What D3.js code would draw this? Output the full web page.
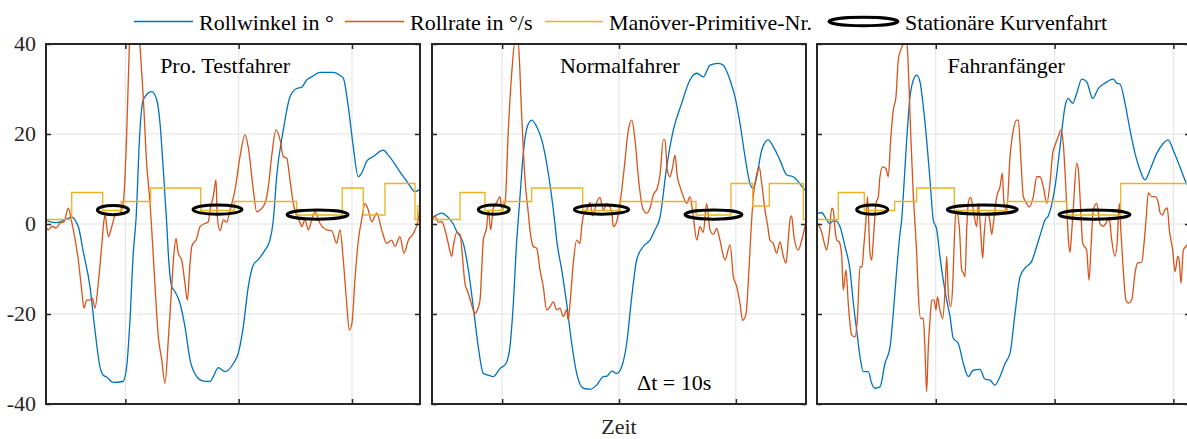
<!DOCTYPE html>
<html>
<head>
<meta charset="utf-8">
<script src="https://cdn.jsdelivr.net/npm/d3@7"></script>
<style>
  html, body { margin: 0; padding: 0; background: #ffffff; overflow: hidden; }
  svg { display: block; }
</style>
</head>
<body>
<svg id="chart" width="1187" height="439"></svg>
<script>
// ---- Data -----------------------------------------------------------------
const panelTitles = ["Pro. Testfahrer", "Normalfahrer", "Fahranfänger"];
const legendLabels = ["Rollwinkel in °", "Rollrate in °/s", "Manöver-Primitive-Nr.", "Stationäre Kurvenfahrt"];
const axisLabel = "Zeit";
const intervalNote = "\u0394t = 10s";

// time window [s] shown for each driver
const zeitbereich = [[3, 36], [4, 36], [0, 31.4]];
const xTicks = [10, 20, 30];
const yTicks = [-40, -20, 0, 20, 40];

// Pro. Testfahrer: [Zeit s, Wert]
const rollwinkel1 = [[3.0,0.8],[3.8,0.3],[4.4,0.6],[4.9,1.2],[5.3,1.5],[5.65,0.5],[5.9,-1],[6.26,-5.8],[6.88,-13.9],[7.32,-23.6],[7.76,-31.7],[8.05,-33.6],[8.35,-34],[8.91,-35.2],[9.79,-35],[10.12,-31.7],[10.41,-21.3],[10.7,-6.5],[10.94,0.9],[11.29,20.9],[11.58,27.6],[12.33,29.4],[12.77,27.6],[13.06,22.4],[13.35,12],[13.65,0.2],[13.79,-6.5],[14.09,-13.9],[14.38,-15],[14.82,-17.6],[15.26,-22.8],[15.71,-30.2],[16.3,-33.9],[16.88,-34.9],[17.47,-35],[17.76,-33.9],[18.2,-31.9],[18.79,-32.8],[19.53,-31],[19.97,-28.7],[20.41,-22.8],[20.85,-13.9],[21.29,-9.1],[21.73,-7.9],[22.32,-5.8],[22.76,-3.6],[23.06,0.9],[23.35,10.5],[23.94,20.9],[24.53,28.3],[25.12,30.1],[25.56,30.4],[26.0,32],[26.44,32.7],[27.18,33.7],[28.35,33.7],[28.94,33],[29.23,32.4],[29.67,26.1],[30.11,17.2],[30.55,10.5],[30.85,11.3],[31.29,13.9],[31.88,15],[32.76,16.4],[33.2,15.3],[34.23,11.6],[34.97,9],[35.56,7.2],[36.0,7.7]];
const rollrate1 = [[3.0,-0.6],[3.2,-1.3],[3.53,-0.5],[3.88,-0.9],[4.24,0.2],[4.59,0.5],[4.97,3.5],[5.27,0.4],[5.41,-1.3],[5.85,-8],[6.15,-14.7],[6.35,-18.7],[6.59,-16.9],[6.88,-16.9],[7.09,-16.5],[7.32,-18.7],[7.61,-13.2],[7.91,-5],[8.12,0.9],[8.21,2],[8.5,-2.8],[8.8,-0.6],[9.09,1.8],[9.53,2.4],[9.82,4.6],[10.12,20],[10.36,40],[10.59,50],[10.94,52],[11.28,40],[11.58,28.3],[11.88,13.5],[12.18,4.6],[12.33,-1.3],[12.62,-13.9],[12.91,-25],[13.21,-30.2],[13.5,-35.4],[13.79,-25.8],[14.09,-13.9],[14.29,-6.5],[14.47,-3.2],[14.67,-6.5],[14.97,-8],[15.26,-13.2],[15.47,-16.9],[15.71,-8.7],[15.86,-5],[16.3,-3.2],[16.59,-0.6],[17.03,0.1],[17.32,0.5],[17.47,3.1],[17.76,6.1],[18.0,9.8],[18.11,1.8],[18.35,-1.5],[18.65,0.9],[18.94,0.4],[19.24,3.1],[19.68,7.6],[20.12,15],[20.56,19.8],[20.85,17],[21.29,7.6],[21.59,2.7],[21.88,3.1],[22.32,4.6],[22.62,8.3],[22.91,15],[23.29,20.9],[23.65,18.7],[23.94,15],[24.24,14.6],[24.53,9.8],[24.82,4.6],[25.12,1.8],[25.41,0.4],[25.56,-0.6],[25.85,0.9],[26.15,-1.3],[26.44,0.9],[26.74,2.7],[27.18,0.1],[27.77,-1.3],[28.21,-1.5],[28.65,-4.3],[28.94,-1.3],[29.23,-8],[29.53,-17.6],[29.76,-23.6],[30.0,-22],[30.26,-12.3],[30.56,-3.6],[30.85,0.9],[31.15,4.6],[31.44,3.1],[31.74,0.5],[32.18,2.4],[32.62,-1.3],[33.06,-4.3],[33.5,-3.6],[33.79,-5],[34.23,-2.8],[34.59,-6.5],[34.97,-3.6],[35.41,-2.1],[35.85,0.9],[36.0,4.6]];
const manoever1 = [[3,1],[5.27,7],[8.0,3],[9.62,5],[12.24,8],[16.65,3],[19.61,5],[25.12,2],[29.14,8],[31.0,2],[32.91,9],[35.56,1],[35.78,4],[36,4]];
// stationary cornering: [Beginn s, Ende s, Niveau]
const kurven1 = [[7.54,10.28,3.1],[15.97,20.29,3.2],[24.27,29.65,2.1]];

// Normalfahrer
const rollwinkel2 = [[4.0,1.3],[4.83,2.4],[5.26,1.8],[5.82,0],[6.11,-1.6],[6.68,-4.3],[7.11,-10.2],[7.53,-18.4],[7.96,-27.3],[8.39,-33.2],[8.82,-33.6],[9.24,-33.9],[9.82,-32.1],[10.33,-31],[10.67,-27.3],[10.96,-17.6],[11.25,-3.6],[11.38,0.9],[11.53,6.1],[11.81,15.7],[12.15,21.6],[12.53,23.1],[12.96,21.6],[13.39,18.7],[13.81,13.5],[14.24,6.1],[14.52,0],[14.67,-3.6],[15.1,-10.2],[15.52,-17.6],[15.95,-26.5],[16.38,-33.2],[16.95,-36.5],[17.52,-36.7],[18.09,-35.8],[18.66,-33.9],[18.97,-33.8],[19.38,-32.7],[19.8,-33.2],[20.23,-31.7],[20.66,-26.5],[21.09,-16.2],[21.51,-8],[22.08,-5],[22.65,-3.6],[23.08,-1.3],[23.51,1.5],[24.08,12.7],[24.65,20.9],[25.36,26.8],[26.07,32],[26.65,33.5],[27.21,32.7],[27.79,35.3],[28.5,35.7],[28.92,35.3],[29.5,32],[29.92,28.3],[30.35,22.4],[30.78,15],[31.21,9],[31.49,7.9],[31.78,10.5],[32.21,16.4],[32.77,18.7],[33.2,17.2],[33.77,14.2],[34.35,10.9],[34.91,10.5],[35.34,9.4],[35.91,7.6],[36.0,7.4]];
const rollrate2 = [[4.0,0.6],[4.26,1.8],[4.54,0.4],[4.86,0.5],[5.11,-1.3],[5.39,-4.3],[5.69,-7.2],[5.82,-5],[6.11,-1.9],[6.4,-2.3],[6.63,-8],[6.82,-13.2],[7.11,-15.4],[7.4,-18],[7.68,-19.9],[7.88,-19.1],[8.11,-16.9],[8.25,-10.2],[8.39,-3.6],[8.68,-0.6],[8.82,3.1],[9.02,-1.3],[9.24,3.5],[9.54,4.8],[9.82,6.1],[9.96,3.5],[10.25,4.6],[10.53,20.9],[10.82,33.5],[11.1,40.5],[11.38,40],[11.67,24.3],[11.96,9.8],[12.24,2.4],[12.38,-1.3],[12.67,-5],[12.96,-5.4],[13.24,-10.2],[13.52,-13.9],[13.81,-19.1],[14.1,-18.4],[14.38,-17.3],[14.67,-19.1],[14.95,-18.7],[15.23,-20.6],[15.52,-19.1],[15.66,-21.4],[15.81,-17.6],[16.09,-8.7],[16.38,-3.6],[16.66,-4.3],[16.81,-0.6],[16.95,1.8],[17.24,3.1],[17.52,4.8],[17.75,1.8],[18.09,4.8],[18.37,5.9],[18.66,3.1],[18.95,4.6],[19.38,2.7],[19.51,-0.6],[19.8,0.5],[20.09,4.6],[20.43,12],[20.8,20.9],[21.09,23.1],[21.37,18.7],[21.65,10.5],[22.03,3.5],[22.37,2.4],[22.65,3.5],[22.94,6.5],[23.28,8],[23.51,11],[23.79,18.7],[23.94,18.7],[24.13,12],[24.36,10.5],[24.59,12.7],[24.79,15.3],[24.99,10.5],[25.22,8.3],[25.5,6.1],[25.79,4.6],[26.07,6.1],[26.35,1.8],[26.65,-3.6],[26.93,-0.6],[27.21,-1.9],[27.5,4.6],[27.79,-1.3],[28.07,-2.3],[28.36,-1],[28.64,-3.6],[29.07,-8],[29.5,-4.6],[29.78,-11.6],[30.07,-13.9],[30.35,-17.6],[30.58,-21.4],[30.87,-19.9],[31.07,-12.5],[31.3,-1.3],[31.49,6.1],[31.78,11],[32.0,12.7],[32.21,9],[32.49,3.1],[32.7,0],[32.92,-3.6],[33.2,-4.3],[33.49,-6.5],[33.77,-4],[34.06,-7.2],[34.29,-8.7],[34.48,-3.6],[34.63,0.9],[34.77,1.8],[34.97,-2.8],[35.34,-5.8],[35.63,-3.6],[35.91,-0.6],[36.0,0.4]];
const manoever2 = [[4,1],[6.4,7],[8.53,3],[10.1,5],[12.53,8],[16.89,3],[20.09,5],[26.59,2],[29.58,9],[31.44,4],[32.86,9],[35.77,1],[36,1]];
const kurven2 = [[7.96,10.61,3.2],[16.18,20.83,3.2],[25.65,30.52,2.1]];

// Fahranfänger
const rollwinkel3 = [[0.0,2.4],[0.4,2.5],[0.82,0.9],[1.09,0.1],[1.37,0.7],[1.66,0.6],[1.94,-0.6],[2.36,-5],[2.78,-10.2],[3.06,-17.6],[3.34,-23.6],[3.62,-29.5],[3.9,-32.8],[4.32,-32.8],[4.6,-35.4],[4.88,-36.5],[5.3,-36.2],[5.72,-31],[6.15,-27.3],[6.42,-19.9],[6.71,-10.2],[6.99,-2],[7.13,0.9],[7.26,6.1],[7.55,18.7],[7.83,28.3],[8.11,32],[8.39,33.1],[8.67,31.6],[8.95,26.1],[9.23,18.7],[9.51,9.8],[9.79,0.9],[10.08,-1.3],[10.35,-7.2],[10.63,-12.5],[10.92,-16.9],[11.2,-20.6],[11.47,-25.4],[11.89,-26.5],[12.32,-31],[12.74,-33.9],[13.16,-32.5],[13.72,-32.3],[14.14,-34.5],[14.56,-34.7],[14.98,-35.8],[15.41,-33.9],[15.83,-31],[16.25,-28.7],[16.67,-19.9],[17.09,-11.7],[17.51,-9.8],[18.07,-8.3],[18.49,-5],[18.92,-1.3],[19.19,0.9],[19.47,1.8],[20.04,8.3],[20.46,17.2],[20.88,26.1],[21.15,27.9],[21.52,26.8],[21.86,29],[22.28,32.2],[22.7,31.6],[23.21,27.9],[23.68,30.1],[24.24,31.3],[24.94,32.2],[25.23,31.3],[25.51,31.1],[25.93,26.8],[26.35,20.9],[26.77,15.7],[27.19,12],[27.61,9.8],[28.03,12],[28.6,15.7],[29.15,17.9],[29.57,18.7],[29.99,16.4],[30.55,12.7],[31.11,9],[31.4,7.8]];
const rollrate3 = [[0,0.5],[0.4,-1.9],[0.67,-4.8],[0.82,-5.8],[1.04,-1.9],[1.24,3.5],[1.37,3.1],[1.52,-1.3],[1.66,-3.6],[1.88,-4],[2.08,-7.2],[2.21,-14.7],[2.44,-10.2],[2.63,-17.6],[2.92,-24.7],[3.2,-25.1],[3.39,-21.4],[3.62,-9.5],[3.79,-9.5],[3.96,-4.3],[4.12,0.9],[4.25,6.1],[4.46,-6.5],[4.6,-8],[4.74,-3.6],[4.97,4.6],[5.16,6.1],[5.3,10.5],[5.53,12.7],[5.81,12.3],[6.0,10.5],[6.2,18.7],[6.42,25.3],[6.65,28.3],[6.84,36.4],[7.05,38.7],[7.26,40],[7.49,41],[7.6,39.4],[7.83,24.3],[8.11,6.1],[8.25,0],[8.39,-6.5],[8.53,-15.6],[8.73,-21],[8.95,-21],[9.09,-28],[9.23,-37.3],[9.37,-27.3],[9.51,-21.4],[9.66,-16.9],[9.85,-16.9],[10.02,-19.1],[10.13,-16.2],[10.35,-19.1],[10.58,-21],[10.78,-14.7],[10.92,-7.2],[11.05,-15.4],[11.25,-18.4],[11.42,-13.9],[11.56,-3.6],[11.7,3.1],[11.98,-0.6],[12.18,-10.2],[12.32,-10.9],[12.46,-11.7],[12.6,-1.3],[12.74,4.8],[12.94,5.9],[13.16,3.1],[13.44,-0.6],[13.58,4.6],[13.78,-1.9],[13.95,-7.6],[14.06,-2.8],[14.29,2.4],[14.5,1.5],[14.71,-2.3],[14.84,0],[15.13,6.1],[15.41,8.3],[15.6,11.3],[15.74,4.8],[15.97,3.1],[16.25,15],[16.53,20.9],[16.81,23.1],[16.95,23.1],[17.15,15],[17.37,6.1],[17.65,4.6],[17.87,3.8],[18.21,6.1],[18.5,10.5],[18.77,10.5],[19.05,8.3],[19.34,4.6],[19.61,9],[19.84,15.7],[20.04,17.5],[20.31,19.4],[20.54,20.9],[20.73,17.9],[20.93,9],[21.07,1],[21.15,-2.8],[21.29,-6.3],[21.44,-1.9],[21.57,3.1],[21.86,13.5],[22.0,12],[22.2,3.1],[22.37,-4.3],[22.7,-5.8],[22.9,-12.5],[23.07,-5],[23.26,3.1],[23.55,4.6],[23.82,0.1],[24.1,-0.5],[24.39,0.5],[24.58,1.5],[24.81,-3.6],[25.09,-7.2],[25.28,-3.6],[25.45,4.6],[25.59,-1.9],[25.78,-10.2],[26.01,-16.9],[26.21,-17.6],[26.49,-16.9],[26.77,-11],[26.97,-8.7],[27.34,-8.5],[27.53,-4.3],[27.7,0.9],[27.89,6.9],[28.18,6.1],[28.46,6.1],[28.74,4.6],[28.88,2.5],[29.09,2.0],[29.3,3.2],[29.49,3.6],[29.66,-1.3],[29.94,-5.8],[30.14,-10.6],[30.37,-7.2],[30.5,-8.2],[30.64,-13.2],[30.84,-5.8],[31.06,-5],[31.4,-4]];
const manoever3 = [[0,1],[1.79,7],[3.98,3],[6.54,5],[8.39,8],[11.56,3],[16.02,5],[21.02,2],[25.57,9],[31.4,9]];
const kurven3 = [[3.34,5.95,3.2],[10.97,16.86,3.2],[20.37,26.35,2.1]];

// ---- Layout & style ---------------------------------------------------------
const SERIF = '"Liberation Serif", "Times New Roman", serif';
const COL_ROLL = "#0072BD", COL_RATE = "#D95319", COL_MP = "#EDB120";
const AXIS_COL = "#262626", GRID_COL = "#e1e1e1";
const plotTop = 44, plotBottom = 404;
const panelBox = [[46, 420], [432, 806], [817, 1190]];
const titleFrac = [0.479, 0.502, 0.507];

const panels = [
  { title: panelTitles[0], range: zeitbereich[0], roll: rollwinkel1, rate: rollrate1, mp: manoever1, kurven: kurven1 },
  { title: panelTitles[1], range: zeitbereich[1], roll: rollwinkel2, rate: rollrate2, mp: manoever2, kurven: kurven2 },
  { title: panelTitles[2], range: zeitbereich[2], roll: rollwinkel3, rate: rollrate3, mp: manoever3, kurven: kurven3 }
];

const svg = d3.select("#chart");
const defs = svg.append("defs");
const y = d3.scaleLinear().domain([-40, 40]).range([plotBottom, plotTop]);

// all labels share one serif face
const label = (sel) => sel.style("font-family", SERIF).style("font-size", "22px");

panels.forEach((p, i) => {
  const [x0, x1] = panelBox[i];
  const x = d3.scaleLinear().domain(p.range).range([x0, x1]);
  const g = svg.append("g").attr("class", "panel");

  defs.append("clipPath").attr("id", "plotclip" + i)
    .append("rect").attr("x", x0).attr("y", plotTop)
    .attr("width", x1 - x0).attr("height", plotBottom - plotTop);

  const xt = xTicks.filter(t => t >= p.range[0] && t <= p.range[1]);

  // grid
  g.append("g").selectAll("line").data(xt).join("line")
    .attr("x1", d => x(d)).attr("x2", d => x(d))
    .attr("y1", plotTop).attr("y2", plotBottom)
    .attr("stroke", GRID_COL).attr("stroke-width", 1);
  g.append("g").selectAll("line").data(yTicks.filter(v => v > -40 && v < 40)).join("line")
    .attr("x1", x0).attr("x2", x1)
    .attr("y1", d => y(d)).attr("y2", d => y(d))
    .attr("stroke", GRID_COL).attr("stroke-width", 1);

  // series
  const plot = g.append("g").attr("clip-path", `url(#plotclip${i})`);
  const smooth = d3.line().x(d => x(d[0])).y(d => y(d[1])).curve(d3.curveMonotoneX);
  const stepped = d3.line().x(d => x(d[0])).y(d => y(d[1])).curve(d3.curveStepAfter);

  plot.append("path").datum(p.roll).attr("d", smooth)
    .attr("fill", "none").attr("stroke", COL_ROLL).attr("stroke-width", 1.3);
  plot.append("path").datum(p.rate).attr("d", smooth)
    .attr("fill", "none").attr("stroke", COL_RATE).attr("stroke-width", 1.3);
  plot.append("path").datum(p.mp).attr("d", stepped)
    .attr("fill", "none").attr("stroke", COL_MP).attr("stroke-width", 1.3);

  // stationary cornering phases
  g.append("g").selectAll("ellipse").data(p.kurven).join("ellipse")
    .attr("cx", d => (x(d[0]) + x(d[1])) / 2)
    .attr("cy", d => y(d[2]))
    .attr("rx", d => (x(d[1]) - x(d[0])) / 2)
    .attr("ry", 4.6)
    .attr("fill", "none").attr("stroke", "#000").attr("stroke-width", 3);

  // axes (ticks pointing inward)
  const styleAxis = sel => {
    sel.select(".domain").remove();
    sel.selectAll(".tick line").attr("stroke", AXIS_COL).attr("stroke-width", 1.5);
  };
  g.append("g").attr("transform", `translate(0,${plotBottom})`)
    .call(d3.axisBottom(x).tickValues(xt).tickSize(-5).tickFormat(() => ""))
    .call(styleAxis);
  g.append("g").attr("transform", `translate(0,${plotTop})`)
    .call(d3.axisTop(x).tickValues(xt).tickSize(-5).tickFormat(() => ""))
    .call(styleAxis);
  const left = g.append("g").attr("transform", `translate(${x0},0)`)
    .call(d3.axisLeft(y).tickValues(yTicks).tickSize(-5).tickPadding(10)
      .tickFormat(d => i === 0 ? String(d) : ""))
    .call(styleAxis);
  left.selectAll("text").call(label).attr("fill", AXIS_COL).attr("dy", "0.3em");
  g.append("g").attr("transform", `translate(${x1},0)`)
    .call(d3.axisRight(y).tickValues(yTicks).tickSize(-5).tickFormat(() => ""))
    .call(styleAxis);

  // frame
  g.append("rect").attr("x", x0).attr("y", plotTop)
    .attr("width", x1 - x0).attr("height", plotBottom - plotTop)
    .attr("fill", "none").attr("stroke", AXIS_COL).attr("stroke-width", 2);

  // panel title
  g.append("text").attr("x", x0 + (x1 - x0) * titleFrac[i]).attr("y", 73)
    .attr("text-anchor", "middle").call(label)
    .attr("fill", "#000").text(p.title);
});

// Δt annotation and x-axis label
svg.append("text").attr("x", 637).attr("y", 390)
  .call(label).attr("fill", "#000").text(intervalNote);
svg.append("text").attr("x", 619).attr("y", 434).attr("text-anchor", "middle")
  .call(label).attr("fill", AXIS_COL).text(axisLabel);

// ---- Legend -----------------------------------------------------------------
const legendY = 21.5;
const legend = svg.append("g").attr("class", "legend");
const legendItems = [
  { kind: "line", color: COL_ROLL, x1: 134, x2: 193, tx: 199 },
  { kind: "line", color: COL_RATE, x1: 345, x2: 404, tx: 410 },
  { kind: "line", color: COL_MP, x1: 545, x2: 603, tx: 609 },
  { kind: "ellipse", color: "#000", x1: 829, x2: 898, tx: 905 }
];
legendItems.forEach((it, k) => {
  if (it.kind === "line") {
    legend.append("line").attr("x1", it.x1).attr("x2", it.x2)
      .attr("y1", legendY).attr("y2", legendY)
      .attr("stroke", it.color).attr("stroke-width", 1.3);
  } else {
    legend.append("ellipse").attr("cx", (it.x1 + it.x2) / 2).attr("cy", legendY)
      .attr("rx", (it.x2 - it.x1) / 2).attr("ry", 4.2)
      .attr("fill", "none").attr("stroke", it.color).attr("stroke-width", 3);
  }
  legend.append("text").attr("x", it.tx).attr("y", 30)
    .call(label).attr("fill", "#000")
    .text(legendLabels[k]);
});
</script>
</body>
</html>
